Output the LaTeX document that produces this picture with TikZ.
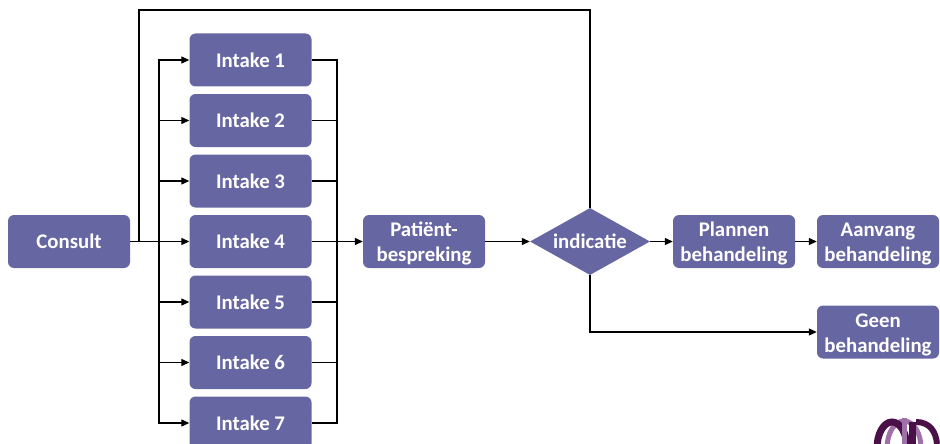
\documentclass[tikz,border=0pt]{standalone}
\usepackage{fontspec}
\setmainfont{Carlito}
\usetikzlibrary{shapes.geometric,arrows.meta}
\definecolor{boxc}{HTML}{6666A3}
\definecolor{logod}{HTML}{4A1048}
\definecolor{logol}{HTML}{A070A8}
\newcommand{\lowerstrut}{\rule{0pt}{19pt}}
\tikzset{
  x=1pt,y=-1pt,
  pbox/.style={draw=none,fill=boxc,rounded corners=6pt,minimum width=122pt,minimum height=53pt,
    text=white,font=\fontsize{20.8}{25}\selectfont\bfseries,align=center,inner sep=0pt},
  pdia/.style={diamond,draw=none,fill=boxc,minimum width=120pt,minimum height=67pt,aspect=1.8,
    text=white,font=\fontsize{20.8}{25}\selectfont\bfseries,inner sep=0pt},
  conn/.style={draw=black,line width=1.25pt},
  arr/.style={conn,-{Triangle[length=8pt,width=7pt]}},
}
\begin{document}
\begin{tikzpicture}
\path[use as bounding box,clip] (0,0) rectangle (940,444);
\node[pbox] (consult) at (69,241.5) {Consult};
\node[pbox] (i1) at (250.5,60) {Intake 1};
\node[pbox] (i2) at (250.5,120.5) {Intake 2};
\node[pbox] (i3) at (250.5,181) {Intake 3};
\node[pbox] (i4) at (250.5,241.5) {Intake 4};
\node[pbox] (i5) at (250.5,302) {Intake 5};
\node[pbox] (i6) at (250.5,362.5) {Intake 6};
\node[pbox] (i7) at (250.5,423) {Intake 7};
\node[pbox] (pat) at (424,241.5) {\lowerstrut Patiënt-\\bespreking};
\node[pdia] (ind) at (590,241.5) {indicatie};
\node[pbox] (plan) at (734,241.5) {\lowerstrut Plannen\\behandeling};
\node[pbox] (aan) at (878,241.5) {\lowerstrut Aanvang\\behandeling};
\node[pbox] (geen) at (878,332) {\lowerstrut Geen\\behandeling};
\coordinate (busL) at (159,241.5);
\coordinate (busR) at (337,241.5);
\coordinate (up) at (139,241.5);
% left side
\draw[conn,line width=1.8pt] (consult.east) -- (busL);
\draw[arr] (busL) -- (i4.west);
\foreach \n in {1,2,3,5,6,7}{
  \draw[arr] (busL) |- (i\n.west);
  \draw[conn] (i\n.east) -| (busR);
}
\draw[conn] (i4.east) -- (busR);
\draw[arr,line width=1.6pt] (busR) -- (pat.west);
\draw[arr] (pat.east) -- (ind.west);
\draw[arr] (ind.east) -- (plan.west);
\draw[arr] (plan.east) -- (aan.west);
\draw[conn] (up) -- (139,10) -| (ind.north);
\draw[arr] (ind.south) |- (geen.west);
% logo
\begin{scope}
\draw[logol,line width=5pt] (904,448) ellipse (17pt and 27pt);
\draw[logod,line width=7pt] (892,448) ellipse (15pt and 26pt);
\draw[logol,line width=5pt] (904,418) -- (904,444);
\fill[logod] (909,422) rectangle (916,444);
\draw[logod,line width=6pt] (916,422) .. controls (930,422) and (936,432) .. (937,444);
\end{scope}
\end{tikzpicture}
\end{document}
